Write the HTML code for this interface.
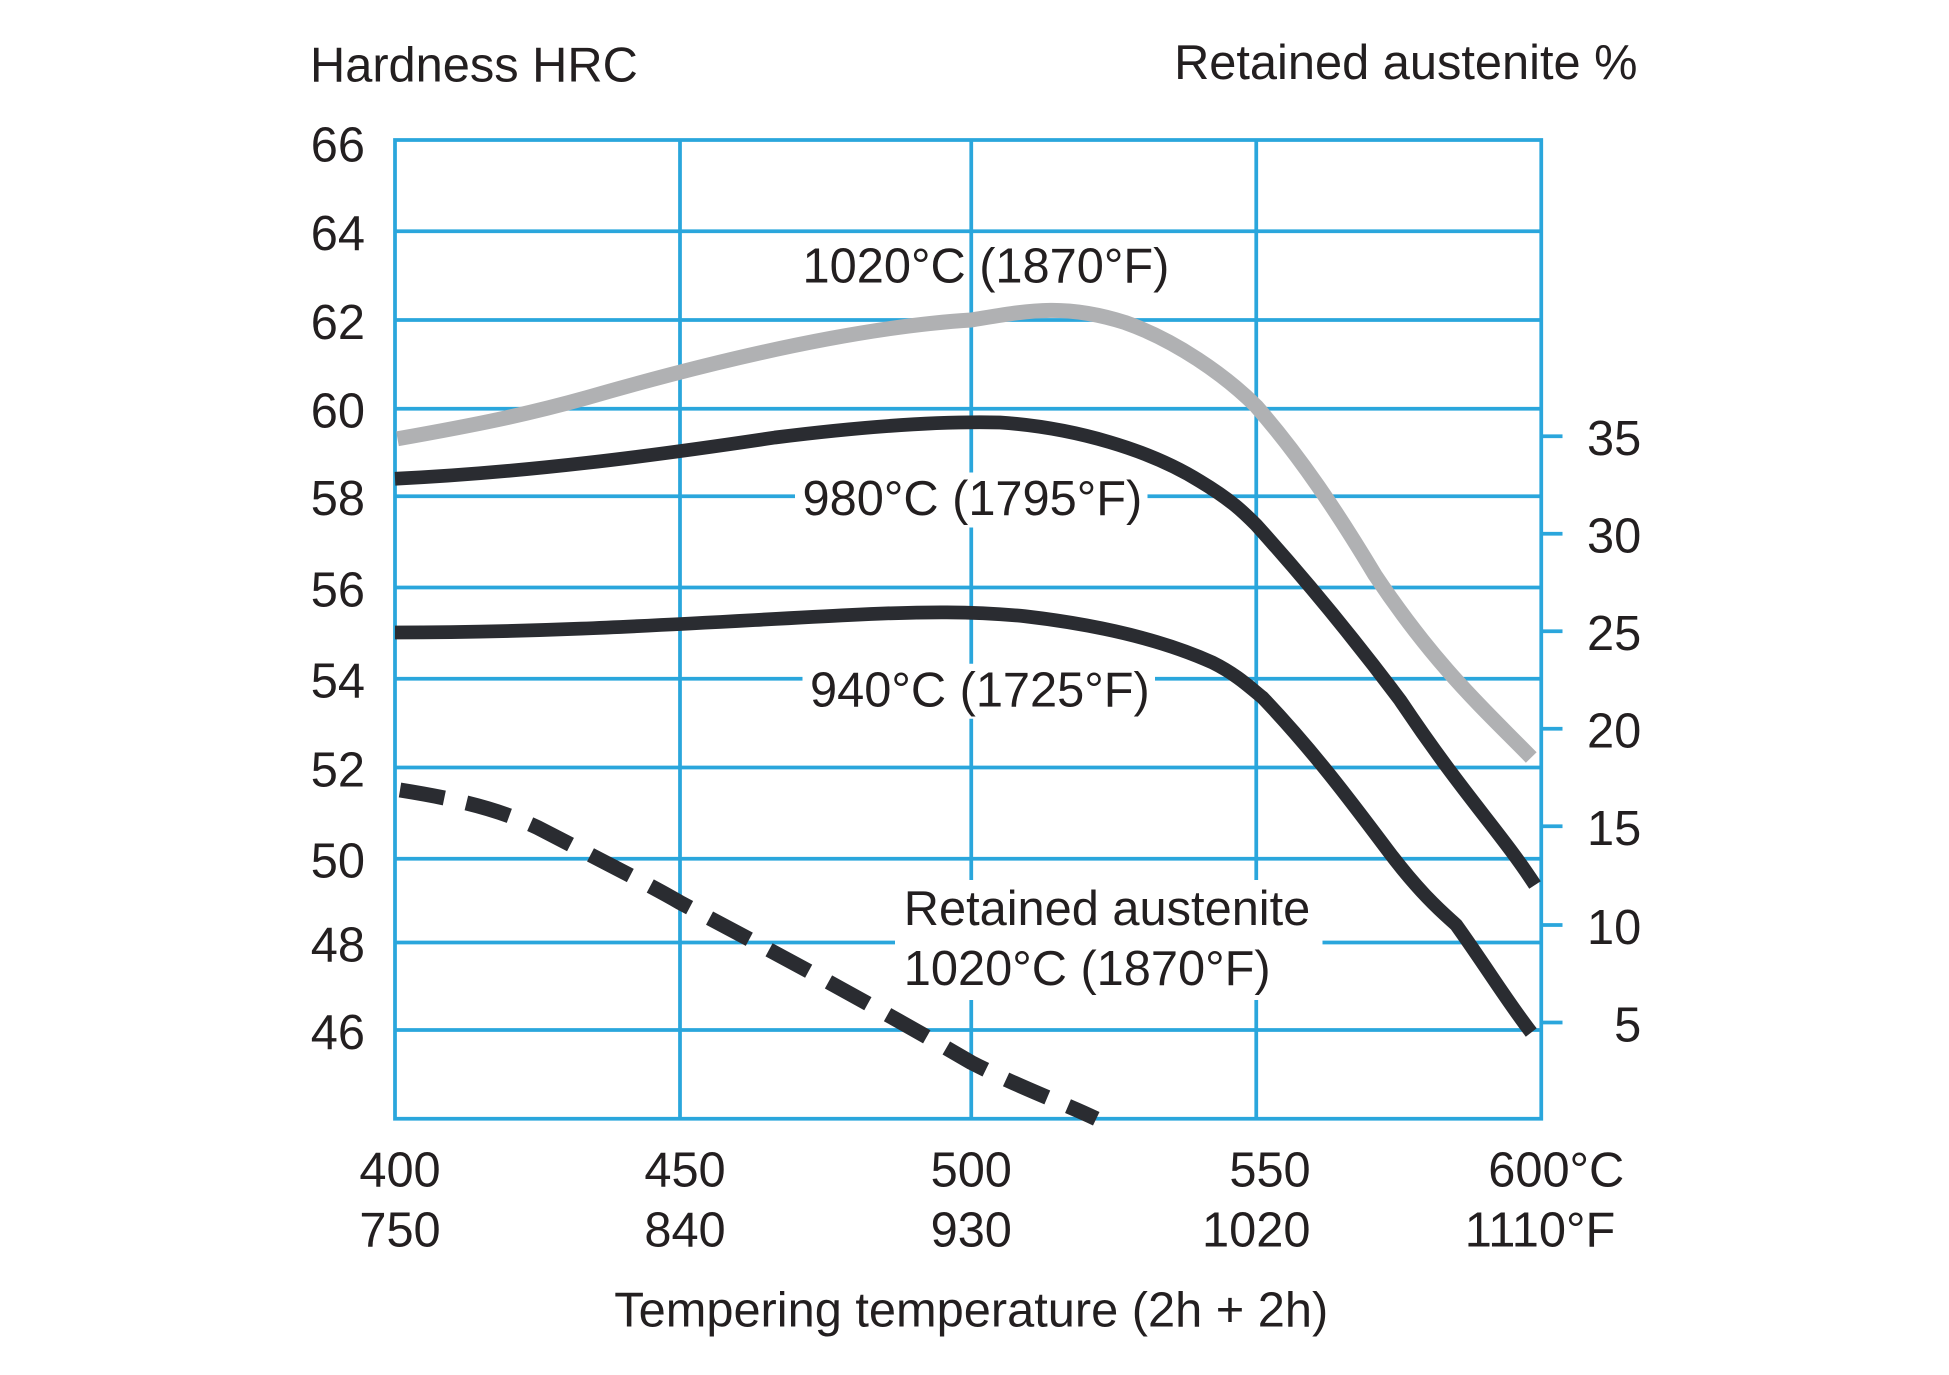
<!DOCTYPE html>
<html><head><meta charset="utf-8"><style>
html,body{margin:0;padding:0;background:#fff;}
svg{display:block;}
text{font-family:"Liberation Sans",sans-serif;fill:#231f20;font-size:39px;}
</style></head><body>
<svg width="1949" height="1375" viewBox="0 0 1559.2 1100" preserveAspectRatio="none" xmlns="http://www.w3.org/2000/svg">
<g stroke="#2aa6dc" stroke-width="3" fill="none">
<rect x="316" y="112" width="917" height="783"/>
<line x1="544" y1="112" x2="544" y2="895"/>
<line x1="777" y1="112" x2="777" y2="895"/>
<line x1="1005" y1="112" x2="1005" y2="895"/>
<line x1="316" y1="185" x2="1233" y2="185"/>
<line x1="316" y1="256" x2="1233" y2="256"/>
<line x1="316" y1="327" x2="1233" y2="327"/>
<line x1="316" y1="397" x2="1233" y2="397"/>
<line x1="316" y1="470" x2="1233" y2="470"/>
<line x1="316" y1="543" x2="1233" y2="543"/>
<line x1="316" y1="614" x2="1233" y2="614"/>
<line x1="316" y1="687" x2="1233" y2="687"/>
<line x1="316" y1="754" x2="1233" y2="754"/>
<line x1="316" y1="824" x2="1233" y2="824"/>
<line x1="1233" y1="349" x2="1250" y2="349"/>
<line x1="1233" y1="427" x2="1250" y2="427"/>
<line x1="1233" y1="505" x2="1250" y2="505"/>
<line x1="1233" y1="583" x2="1250" y2="583"/>
<line x1="1233" y1="661" x2="1250" y2="661"/>
<line x1="1233" y1="740" x2="1250" y2="740"/>
<line x1="1233" y1="818" x2="1250" y2="818"/>
</g>
<g fill="none" stroke-linejoin="round">
<path d="M318,351 C380,340 420,332 470,318 C560,292 680,262 777,256 C820,249 850,242 900,258 C940,272 980,300 1005,325 C1040,365 1070,410 1100,460 C1150,535 1190,570 1225,606" stroke="#b0b1b3" stroke-width="12"/>
<path d="M316,383 C420,378 520,365 620,350 C700,340 760,337 800,338 C860,342 920,360 960,385 C985,400 995,410 1005,420 C1050,470 1090,520 1120,560 C1170,635 1200,665 1228,708" stroke="#2a2c31" stroke-width="11"/>
<path d="M316,506 C450,506 560,498 680,492 C740,489 780,489 820,493 C880,500 930,512 970,530 C990,540 1000,550 1010,558 C1050,600 1080,640 1110,680 C1140,720 1160,735 1165,740 C1190,775 1205,800 1225,826" stroke="#2a2c31" stroke-width="11"/>
<path d="M320,632 C370,640 400,648 430,662 C480,688 520,708 544,722 C620,762 700,805 777,850 C820,872 850,882 877,895" stroke="#2a2c31" stroke-width="12" stroke-dasharray="36,18"/>
</g>
<g fill="#fff">
<rect x="636" y="378" width="282" height="44"/>
<rect x="642" y="531" width="282" height="44"/>
<rect x="716" y="704" width="342" height="96"/>
</g>
<text x="642" y="226">1020°C (1870°F)</text>
<text x="642" y="412">980°C (1795°F)</text>
<text x="648" y="565">940°C (1725°F)</text>
<text x="723" y="740">Retained austenite</text>
<text x="723" y="788">1020°C (1870°F)</text>
<text x="248" y="65">Hardness HRC</text>
<text x="1310" y="63" text-anchor="end">Retained austenite %</text>
<g text-anchor="end">
<text x="292" y="129">66</text><text x="292" y="200">64</text><text x="292" y="271">62</text>
<text x="292" y="342">60</text><text x="292" y="412">58</text><text x="292" y="485">56</text>
<text x="292" y="558">54</text><text x="292" y="629">52</text><text x="292" y="702">50</text>
<text x="292" y="769">48</text><text x="292" y="839">46</text>
<text x="1313" y="364">35</text><text x="1313" y="442">30</text><text x="1313" y="520">25</text>
<text x="1313" y="598">20</text><text x="1313" y="676">15</text><text x="1313" y="755">10</text>
<text x="1313" y="833">5</text>
</g>
<g text-anchor="middle">
<text x="320" y="949">400</text><text x="548" y="949">450</text><text x="777" y="949">500</text>
<text x="1016" y="949">550</text><text x="1245" y="949">600°C</text>
<text x="320" y="997">750</text><text x="548" y="997">840</text><text x="777" y="997">930</text>
<text x="1005" y="997">1020</text><text x="1232" y="997">1110°F</text>
<text x="777" y="1061">Tempering temperature (2h + 2h)</text>
</g>
</svg>
</body></html>
